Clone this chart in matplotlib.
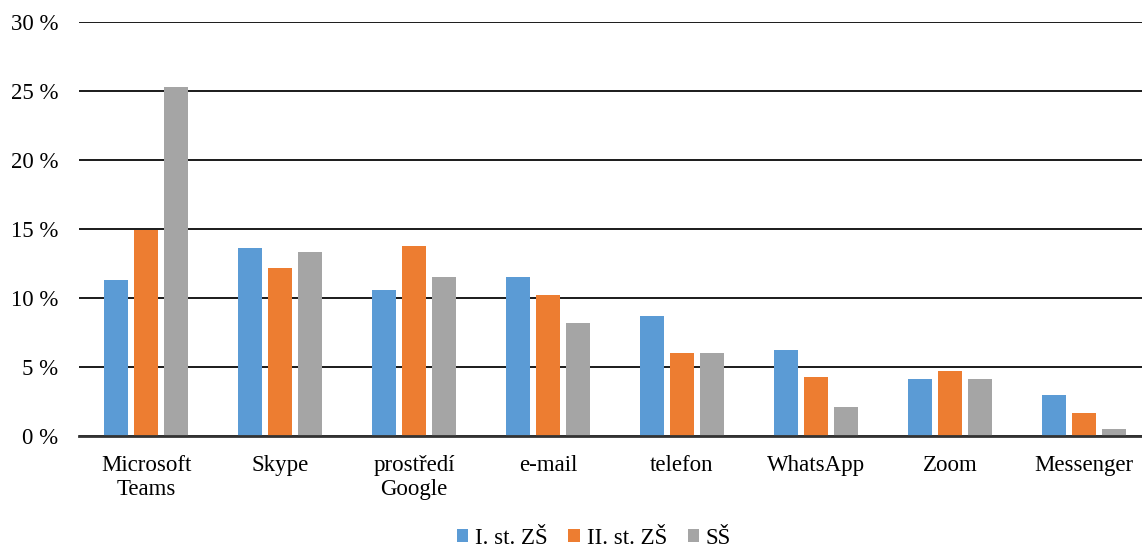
import numpy as np
import matplotlib
matplotlib.use('Agg')
import matplotlib.pyplot as plt
from matplotlib.ticker import FuncFormatter

categories = ['Microsoft\nTeams', 'Skype', 'prostředí\nGoogle', 'e-mail',
              'telefon', 'WhatsApp', 'Zoom', 'Messenger']
zs1 = [11.3, 13.6, 10.6, 11.5, 8.7, 6.2, 4.1, 3.0]
zs2 = [14.9, 12.2, 13.8, 10.2, 6.0, 4.3, 4.7, 1.7]
ss = [25.3, 13.3, 11.5, 8.2, 6.0, 2.1, 4.1, 0.5]
series_names = ['I. st. ZŠ', 'II. st. ZŠ', 'SŠ']
colors = ['#5b9bd5', '#ed7d31', '#a5a5a5']

plt.rcParams['font.family'] = ['Liberation Serif', 'DejaVu Serif']

fig = plt.figure(figsize=(11.42, 5.49), dpi=100)
ax = fig.add_axes([79 / 1142, 1 - 436 / 549, 1072 / 1142, 414 / 549])

x = np.arange(len(categories))
step = 0.224
width = 0.18
for i, (vals, name, c) in enumerate(zip([zs1, zs2, ss], series_names, colors)):
    ax.bar(x + (i - 1) * step, vals, width, color=c, label=name, zorder=3)

ax.set_xlim(-0.5, len(categories) - 0.5)
ax.set_ylim(0, 30)
ax.set_yticks(np.arange(0, 31, 5))
ax.yaxis.set_major_formatter(FuncFormatter(lambda v, p: f'{int(v)} %'))
ax.grid(axis='y', color='#1a1a1a', linewidth=1.4, zorder=0)
for s in ['top', 'right', 'left']:
    ax.spines[s].set_visible(False)
ax.spines['bottom'].set_linewidth(2)
ax.spines['bottom'].set_color('#333333')
ax.spines['bottom'].set_zorder(4)
ax.set_xticks(x)
ax.set_xticklabels(categories, fontsize=16.5, linespacing=1.15)
ax.tick_params(axis='x', length=0, pad=14)
ax.tick_params(axis='y', length=0, pad=15, labelsize=16.5)

fig.legend(loc='center', bbox_to_anchor=(594 / 1142, 1 - 538 / 549), ncol=3,
           frameon=False, fontsize=16.5, handlelength=0.5, handleheight=0.5,
           handletextpad=0.3, columnspacing=0.9)

fig.savefig('out.png', dpi=100)
